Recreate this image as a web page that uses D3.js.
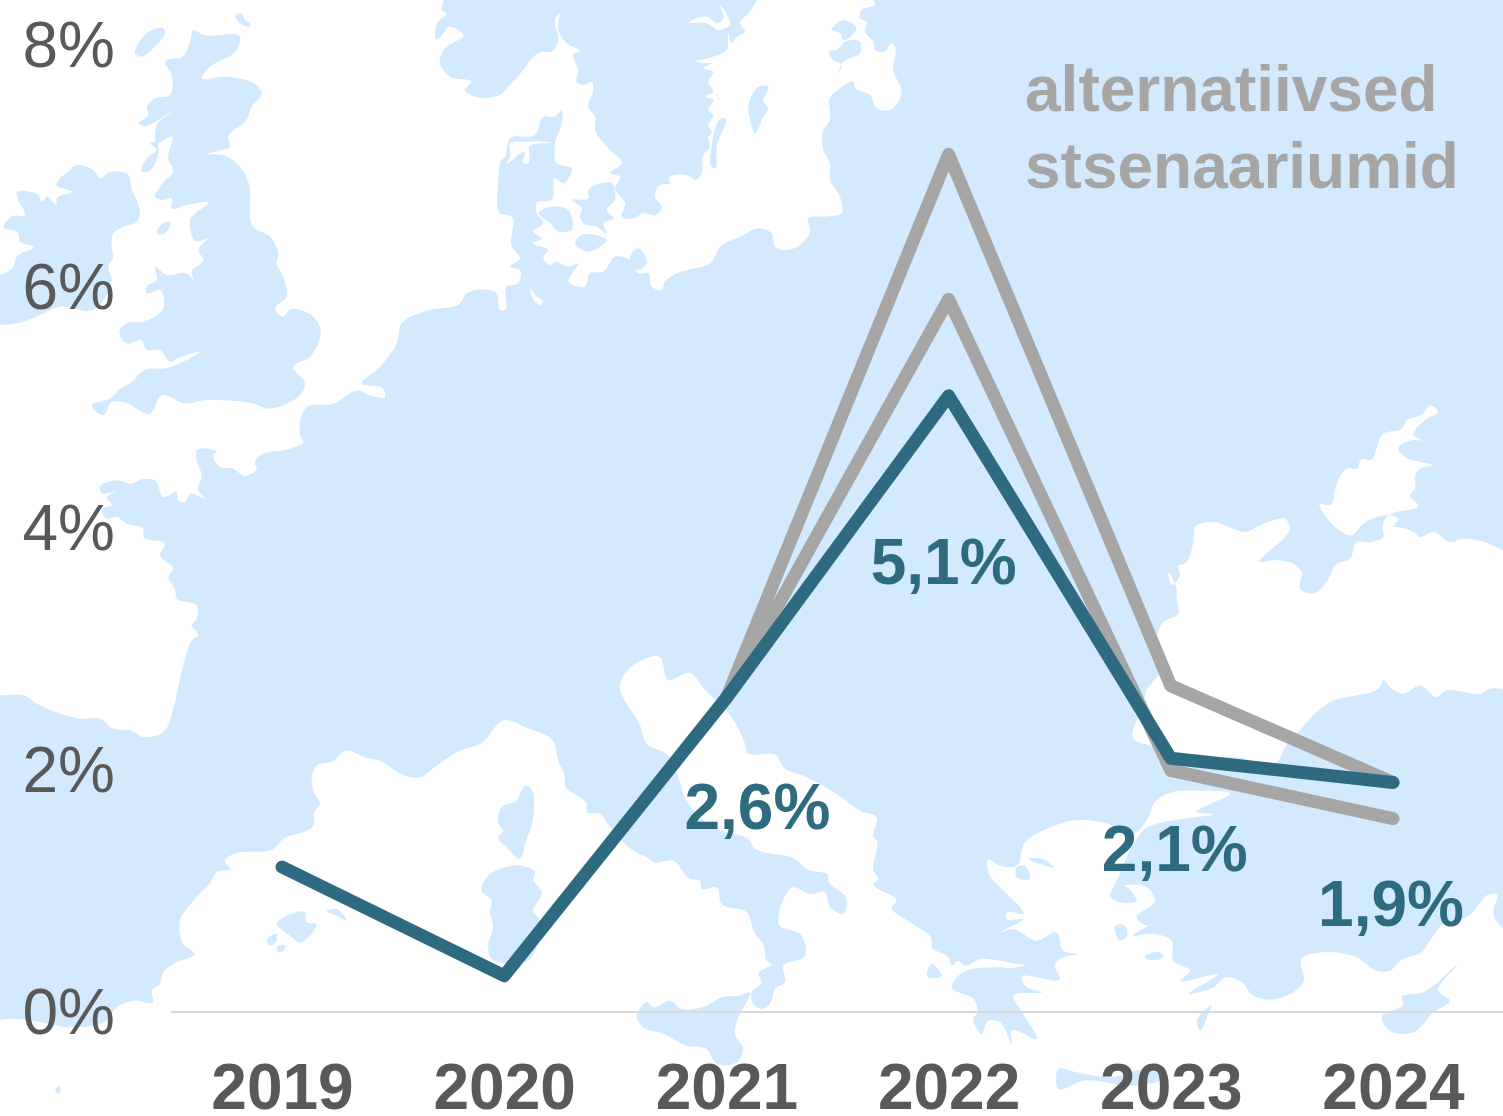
<!DOCTYPE html>
<html><head><meta charset="utf-8">
<script src="https://cdnjs.cloudflare.com/ajax/libs/d3/7.8.5/d3.min.js"></script>
<style>html,body{margin:0;padding:0;background:#fff}svg{display:block}text{font-family:"Liberation Sans",Arial,sans-serif}</style>
</head><body>
<svg id="c" width="1503" height="1116"></svg>
<script>
// ---------- chart data ----------
const years = ["2019","2020","2021","2022","2023","2024"];
const baseline = [1.2,0.3,2.6,5.1,2.1,1.9];
const altHigh  = [null,null,2.6,7.1,2.7,1.9];
const altLow   = [null,null,2.6,5.9,2.0,1.6];
const yTicks = [0,2,4,6,8];
const pointLabels = [
  {year:"2021",text:"2,6%",value:2.6},
  {year:"2022",text:"5,1%",value:5.1},
  {year:"2023",text:"2,1%",value:2.1},
  {year:"2024",text:"1,9%",value:1.9}];
const altLegend = ["alternatiivsed","stsenaariumid"];

// ---------- decorative background map (crop coords / 3 + offset) ----------
const seg=(ox,oy,a)=>a.map(p=>[p[0]/3+ox,p[1]/3+oy]);
const Z1=a=>seg(0,0,a), Z2=a=>seg(500,0,a), Z3=a=>seg(0,372,a), Z4=a=>seg(0,744,a), Z5=a=>seg(500,744,a), Z6=a=>seg(1000,744,a), Z7=a=>seg(1000,372,a);

const northSea = [[-20,-20],[443,-20],
 ...Z1([[1330,0],[1325,30],[1340,40],[1310,70],[1310,120],[1330,100],[1345,80],[1390,105],[1330,150],[1320,190],[1350,230],[1415,245],[1395,270],[1425,290],[1500,285]]),
 ...Z2([[30,255],[70,210],[100,170],[125,155],[155,155],[175,120],[165,60],[178,40],[175,90],[195,125],[240,155],[220,160],[235,215],[230,245],[255,255],[275,245],[280,270],[265,320],[285,350],[285,390],[320,440],[365,490],[330,520],[360,530],[345,565],[375,610],[365,650],[400,655],[430,640],[470,645],[485,620],[465,590],[480,555],[510,550],[505,535],[560,525],[590,540],[605,520],[610,465],[630,440],[625,410],[635,400],[625,375],[640,345],[625,330],[640,300],[615,290],[640,275],[625,245],[640,215],[610,205],[635,190],[590,185],[640,170],[680,150],[685,100],[695,130],[710,110],[735,95],[720,70],[745,40],[770,0],[770,-60],[1120,-60],[1120,0],[1125,15],[1085,30],[1080,55],[1100,65],[1095,95],[1120,125],[1125,150],[1155,155],[1175,130],[1185,140],[1180,210],[1205,280],[1170,330],[1130,325],[1110,285],[1065,265],[1060,245],[1020,265],[990,295],[990,360],[970,390],[970,450],[990,490],[990,540],[1020,590],[1025,640],[975,650],[925,655],[930,695],[900,735],[860,750],[825,740],[815,700],[780,685],[720,710],[660,740],[635,785],[530,820],[495,845],[485,870],[455,860],[445,820],[415,820],[390,780],[345,770],[310,815],[270,820],[255,860],[205,845],[235,790],[205,800],[165,785],[150,795],[130,770],[145,750],[100,730],[125,715],[100,695],[130,670],[110,640],[110,608],[155,600],[165,535],[190,550],[215,505],[170,490],[165,430],[185,370],[185,330],[165,350],[130,350],[105,405],[30,415],[15,470],[5,480],[-5,540],[-5,630],[0,640],[35,650],[35,740],[60,775],[30,800],[60,810],[55,850],[20,860],[15,930],[0,930]]),
 ...Z1([[1490,880],[1400,880],[1380,910],[1270,935],[1205,970],[1190,1030],[1140,1100]]),
 ...Z3([[1085,35],[1150,50],[1155,75],[1110,70],[1075,55],[1000,95],[920,105],[900,190],[910,210],[870,230],[780,250],[765,270],[770,290],[735,312],[700,290],[660,285],[640,250],[650,240],[590,235],[590,265],[605,310],[595,355],[615,380],[570,365],[555,390],[535,385],[530,360],[490,375],[465,325],[425,322],[395,335],[350,325],[300,345],[305,365],[345,360],[320,375],[335,400],[305,410],[320,440],[350,435],[380,455],[430,470],[430,495],[495,515],[480,550],[520,590],[505,615],[525,650],[530,680],[590,700],[590,740],[575,760],[595,790],[580,800],[550,880],[540,920],[520,1010],[490,1080],[430,1095],[390,1075],[340,1070],[300,1040],[240,1040],[120,1000],[70,970],[0,970]]),
 [-20,695]];

const medSea = [[-20,1136],[-20,1027],
 ...Z4([[30,825],[100,830],[210,850],[320,830],[350,790],[400,770],[460,775],[455,740],[480,720],[490,685],[520,660],[585,630],[550,600],[540,530],[580,470],[635,410],[650,385],[690,375],[675,350],[700,330],[820,315],[850,285],[940,245],[945,200],[960,180],[940,140],[935,105],[950,65],[1000,50],[1035,20],[1095,40],[1150,55],[1170,70],[1215,95],[1260,100],[1310,65],[1380,20],[1440,0]]),
 [505,720],[525,727],[553,741],
 ...Z5([[175,50],[195,100],[195,125],[260,180],[260,205],[300,210],[330,250],[400,320],[450,345],[460,355],[520,350],[570,405],[600,410],[605,435],[650,430],[665,480],[740,505],[765,570],[790,600],[800,650],[815,660],[775,690],[785,715],[755,745],[760,780],[790,795],[815,770],[825,735],[855,715],[850,665],[915,635],[905,575],[835,540],[835,520],[880,430],[930,450],[975,445],[990,490],[1030,510],[1040,465],[985,410],[985,395],[920,375],[885,345],[760,310],[750,290],[640,250],[560,170],[530,85],[500,30],[440,0]]),
 [640,725],[620,685],[630,668],[660,657],[668,680],[690,673],[705,690],[730,715],
 ...Z5([[735,0],[740,25],[830,35],[850,70],[920,100],[1010,150],[1080,200],[1130,220],[1120,280],[1130,290],[1120,380],[1135,405],[1120,420],[1190,470],[1175,490],[1230,535],[1295,585],[1295,610],[1345,640],[1355,665],[1375,650],[1395,665],[1440,645],[1500,650]]),
 ...Z6([[50,660],[75,662],[40,672],[0,670]]),
 ...Z5([[1400,680],[1375,695],[1355,730],[1425,770],[1430,810],[1420,820],[1445,870],[1465,830],[1500,835]]),
 ...Z6([[35,900],[35,860],[110,885],[70,810],[40,755],[125,745],[75,725],[65,700],[180,705],[165,660],[190,640],[235,630],[190,620],[170,565],[110,590],[40,555],[0,565],[70,525],[20,525],[20,505],[70,510],[0,430]]),
 [990,876],[988,860],
 ...Z6([[0,365],[50,365],[75,295],[140,255],[215,230],[310,235],[400,270],[450,210],[460,180],[500,150],[600,140],[690,148],[590,205],[635,210],[430,258],[400,300],[350,410],[330,455],[360,430],[440,430],[465,470],[410,520],[440,545],[485,525],[400,575],[460,570],[515,590],[520,650],[570,680],[540,710],[655,690],[565,750],[640,730],[680,700],[725,715],[760,755],[830,765],[910,715],[905,645],[970,625],[1070,640],[1130,680],[1170,680],[1200,650],[1265,625],[1290,590],[1330,540],[1400,520],[1470,450],[1490,450],[1480,510],[1540,590]]),
 [1523,1136]];

const blackSea = [
 ...Z7([[1540,560],[1390,500],[1350,510],[1300,480],[1260,495],[1240,480],[1190,465],[1150,470],[1150,495],[1110,510],[1070,510],[1050,560],[1010,575],[980,630],[940,665],[900,650],[905,600],[880,575],[820,565],[780,570],[870,465],[855,440],[820,445],[770,465],[740,480],[700,470],[640,450],[585,465],[580,510],[555,575],[535,580],[540,610],[515,640],[505,600],[530,650],[530,680],[535,725],[490,750],[470,800],[480,900],[440,955],[430,1000],[400,1100]]),
 ...Z6([[460,10],[500,70],[700,40],[830,55],[860,0]]),
 ...Z7([[890,1085],[950,1020],[990,990],[1140,945],[1150,925],[1175,950],[1210,965],[1260,940],[1310,975],[1340,955],[1390,960],[1440,965],[1470,950],[1540,950]])];

const azov = Z7([[1150,480],[1195,440],[1170,430],[1105,445],[1085,460],[1055,490],[1000,460],[960,395],[990,400],[1010,335],[1040,290],[1070,290],[1085,260],[1110,265],[1150,185],[1205,170],[1220,145],[1270,125],[1290,100],[1315,120],[1280,140],[1240,190],[1265,205],[1235,205],[1195,230],[1215,255],[1295,280],[1260,290],[1245,310],[1245,350],[1230,370],[1255,400],[1175,425],[1155,440]]);

const whiteExtras = [
 Z2([[30,430],[80,425],[150,428],[90,438],[85,490],[70,490],[75,455],[20,490],[30,470]]),
 Z2([[565,68],[620,50],[655,70],[670,55],[660,15],[690,75],[655,90],[620,70]]),
 Z2([[588,182],[640,184],[620,190]]),
 Z2([[90,865],[105,885],[128,905],[122,915],[105,905]])
];

const blueIslands = [
 // Great Britain
 Z1([[580,90],[610,105],[720,110],[710,150],[625,205],[605,235],[680,230],[770,255],[785,280],[755,320],[740,360],[685,410],[690,440],[665,450],[620,462],[670,465],[720,500],[745,545],[760,680],[810,710],[835,760],[830,790],[850,830],[860,890],[825,925],[850,950],[870,928],[940,950],[962,990],[930,1070],[880,1100],[915,1151],[900,1186],[860,1211],[800,1226],[760,1211],[660,1201],[610,1201],[560,1211],[485,1186],[450,1241],[370,1206],[335,1206],[310,1246],[275,1216],[330,1195],[360,1166],[395,1146],[425,1116],[440,1108],[500,1105],[540,1090],[600,1055],[540,1072],[510,1085],[480,1050],[440,1050],[425,1020],[380,1030],[358,995],[380,970],[430,965],[490,925],[480,870],[440,880],[440,860],[470,840],[465,800],[500,825],[560,820],[580,840],[575,815],[610,780],[595,750],[622,715],[590,725],[570,660],[625,608],[560,615],[515,625],[515,595],[490,600],[465,590],[480,560],[520,510],[505,480],[515,410],[470,430],[470,375],[515,335],[430,378],[415,370],[445,345],[440,320],[465,295],[510,285],[515,225],[495,185],[520,175],[540,175],[570,130]]),
 // Ireland
 Z1([[225,497],[280,510],[300,535],[325,518],[385,525],[395,570],[410,600],[420,640],[410,665],[370,680],[340,700],[335,740],[340,770],[325,800],[335,840],[310,900],[280,930],[180,920],[120,945],[70,965],[-30,965],[-30,830],[0,825],[40,800],[50,770],[100,740],[60,725],[55,700],[10,680],[35,650],[75,645],[55,600],[50,578],[115,585],[125,605],[140,590],[170,615],[170,595],[215,575],[170,555],[175,540],[205,515]]),
 Z1([[470,700],[490,670],[510,665],[505,690],[480,705]]),
 Z1([[415,130],[440,100],[490,85],[495,95],[465,140],[420,170],[405,160]]),
 Z1([[705,45],[725,40],[735,60],[750,70],[750,80],[720,70]]),
 Z1([[425,515],[445,470],[470,450],[450,430],[470,425],[475,460],[445,515]]),
 // Baltic
 Z2([[780,258],[805,260],[790,305],[805,325],[790,350],[765,400],[750,360],[745,320]]),
 Z2([[665,355],[675,355],[650,440],[645,505],[635,500],[635,440]]),
 Z2([[1030,60],[1070,85],[1030,120],[1020,100],[995,90]]),
 Z2([[1035,125],[1080,125],[1080,160],[1030,185],[1010,225],[1025,195],[1000,180],[985,155],[1010,150]]),
 Z2([[395,760],[415,745],[440,790],[415,810],[390,790]]),
 Z2([[115,640],[150,620],[180,620],[205,630],[215,690],[175,695],[150,670],[130,655]]),
 Z2([[215,600],[265,595],[265,570],[300,550],[335,548],[345,600],[320,630],[340,655],[310,670],[320,700],[290,680],[250,670],[240,650],[245,625]]),
 Z2([[225,730],[245,705],[320,720],[265,755]]),
 // Mediterranean
 Z5([[410,820],[440,775],[460,790],[510,770],[545,795],[620,785],[665,760],[715,755],[750,745],[715,820],[705,870],[730,915],[710,955],[650,960],[620,915],[560,905],[490,870],[430,850]]),
 Z5([[-55,440],[-40,400],[65,365],[105,385],[100,405],[125,445],[100,505],[115,520],[85,650],[-30,640],[-35,600],[-20,550],[-30,500],[-25,470]]),
 Z5([[75,125],[90,130],[100,220],[75,300],[60,345],[20,310],[-5,280],[10,260],[-5,240],[5,190],[50,170]]),
 Z4([[830,540],[915,505],[920,535],[948,540],[900,595],[870,575]]),
 Z4([[980,500],[1010,495],[1040,530],[1010,515]]),
 Z4([[800,590],[830,570],[830,590],[810,605]]),
 Z4([[830,610],[855,605],[855,615],[835,625]]),
 Z4([[165,1040],[178,1025],[178,1050]]),
 Z5([[1280,690],[1295,660],[1325,695],[1285,700]]),
 Z6([[175,975],[230,985],[330,1000],[460,975],[500,1000],[400,1025],[250,1010],[175,1035]]),
 Z6([[635,785],[625,810],[600,860],[590,830]]),
 Z6([[1145,820],[1210,780],[1205,760],[1270,745],[1370,665],[1315,740],[1350,770],[1300,805],[1240,865],[1170,860]]),
 Z6([[50,370],[75,365],[90,405],[50,400]]),
 Z6([[85,345],[130,345],[160,370],[120,360]]),
 Z6([[330,455],[370,425],[410,470],[360,475]]),
 Z6([[345,545],[375,545],[380,580],[360,590]]),
 Z6([[435,640],[480,625],[490,640],[440,645]])
];

// ---------- draw ----------
const svg = d3.select("#c");
const W=1503,H=1116;
const LAND="#D3EAFE", TEXT="#595959", TEAL="#2E6B80", GREY="#A6A6A6", AXIS="#D9D9D9";

const x = d3.scalePoint().domain(years).range([282,1393]);
const y = d3.scaleLinear().domain([0,8]).range([1012,45.5]);

svg.append("rect").attr("width",W).attr("height",H).attr("fill",LAND);
const shape = d3.line().curve(d3.curveCatmullRomClosed.alpha(0.8));
const map = svg.append("g").attr("class","map");
map.selectAll("path.sea").data([northSea,medSea,blackSea,azov,...whiteExtras]).join("path")
  .attr("class","sea").attr("d",shape).attr("fill","#fff");
map.selectAll("path.isl").data(blueIslands).join("path")
  .attr("class","isl").attr("d",shape).attr("fill",LAND);

// axes
const gy = svg.append("g").attr("transform","translate(115,0)")
  .call(d3.axisLeft(y).tickValues(yTicks).tickSize(0).tickPadding(0).tickFormat(d=>d+"%"));
gy.select(".domain").remove();
gy.selectAll("text").attr("font-size",64).attr("fill",TEXT).attr("dy","0.33em").style("font-family",'"Liberation Sans",Arial,sans-serif');

const gx = svg.append("g").attr("transform",`translate(0,${y(0)})`)
  .call(d3.axisBottom(x).tickSize(0).tickPadding(0));
gx.select(".domain").attr("d",`M171,0H${W}`).attr("stroke",AXIS).attr("stroke-width",2);
gx.selectAll("text").attr("font-size",64).attr("font-weight",700).attr("fill",TEXT)
  .attr("y",97).attr("dy",0).style("font-family",'"Liberation Sans",Arial,sans-serif');

// lines
const line = d3.line().defined(d=>d.v!=null).x(d=>x(d.y)).y(d=>y(d.v));
const series = [[altHigh,GREY],[altLow,GREY],[baseline,TEAL]];
svg.selectAll("path.series").data(series).join("path").attr("class","series")
  .attr("d",d=>line(years.map((yr,i)=>({y:yr,v:d[0][i]}))))
  .attr("fill","none").attr("stroke",d=>d[1]).attr("stroke-width",13)
  .attr("stroke-linecap","round").attr("stroke-linejoin","round");

// point labels
const labelOffset = {"2021":[31,131],"2022":[-5,188],"2023":[4,113],"2024":[-2,144]};
svg.selectAll("text.pl").data(pointLabels).join("text").attr("class","pl")
  .attr("x",d=>x(d.year)+labelOffset[d.year][0])
  .attr("y",d=>y(d.value)+labelOffset[d.year][1])
  .attr("text-anchor","middle").attr("font-size",64).attr("font-weight",700).attr("fill",TEAL)
  .text(d=>d.text);

// legend
svg.selectAll("text.leg").data(altLegend).join("text").attr("class","leg")
  .attr("x",1025).attr("y",(d,i)=>111+i*77)
  .attr("font-size",64).attr("font-weight",700).attr("fill",GREY).text(d=>d);
</script>
</body></html>
